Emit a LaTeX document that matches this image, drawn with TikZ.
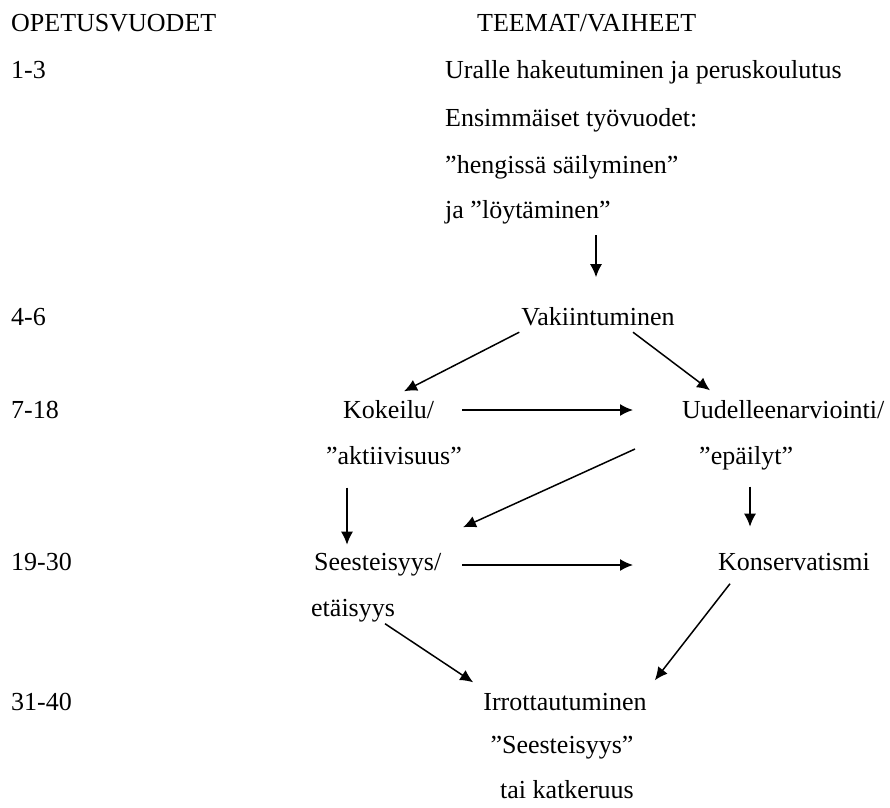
\documentclass[tikz,border=0pt]{standalone}
\usepackage{fontspec}
\setmainfont{Liberation Serif}
\usepackage{tikz}
\usetikzlibrary{arrows.meta, positioning}

\begin{document}
\begin{tikzpicture}[x=1pt, y=-1pt,
  every node/.style={font=\fontsize{26pt}{31pt}\selectfont, inner sep=0pt, text height=18pt, text depth=5pt},
  arr/.style={line width=1.5pt, -{Latex[length=13pt,width=12pt]}}]
  \useasboundingbox (0,0) rectangle (890,807);
  % column headers  (y axis points down)
  \node[anchor=west] (hdrYears) at (11,25) {OPETUSVUODET};
  \node[anchor=west] (hdrThemes) at (477,25) {TEEMAT/VAIHEET};
  % years column  x=11
  \node[anchor=west] (yrA) at (11,71.5) {1-3};
  \node[anchor=west] (yrB) at (11,318.5) {4-6};
  \node[anchor=west] (yrC) at (11,412) {7-18};
  \node[anchor=west] (yrD) at (11,564) {19-30};
  \node[anchor=west] (yrE) at (11,704) {31-40};
  % first years block
  \node[anchor=west] (start) at (445,71.5) {Uralle hakeutuminen ja peruskoulutus};
  \node[anchor=west] (firstA) at (445,120) {Ensimmäiset työvuodet:};
  \node[anchor=west] (firstB) at (445,166.5) {”hengissä säilyminen”};
  \node[anchor=west] (firstC) at (445,211.5) {ja ”löytäminen”};
  % stabilisation
  \node (vak) at (598,318.5) {Vakiintuminen};
  % 7-18
  \node[anchor=west] (kok) at (343,412) {Kokeilu/};
  \node (akt) at (394,458) {”aktiivisuus”};
  \node[anchor=west] (uud) at (682,412) {Uudelleenarviointi/};
  \node[anchor=west] (epa) at (699,458) {”epäilyt”};
  % 19-30
  \node[anchor=west] (see) at (314,564) {Seesteisyys/};
  \node[anchor=west] (eta) at (311,610) {etäisyys};
  \node[anchor=west] (kon) at (718,564) {Konservatismi};
  % 31-40
  \node (irr) at (565,704) {Irrottautuminen};
  \node (ses) at (562,747) {”Seesteisyys”};
  \node (kat) at (567,792) {tai katkeruus};
  % arrows
  \draw[arr] ([xshift=151pt,yshift=-12pt]firstC.south west) -- ++(0,42);
  \draw[arr] ([xshift=-2pt,yshift=-2pt]vak.south west) -- ([xshift=61pt,yshift=9pt]kok.north west);
  \draw[arr] ([xshift=35pt,yshift=-2pt]vak.south) -- ([xshift=28pt,yshift=10pt]uud.north west);
  \draw[arr] ([xshift=119pt,yshift=2pt]kok.west) -- ([xshift=-49pt,yshift=2pt]uud.west);
  \draw[arr] ([xshift=-64pt,yshift=9pt]epa.west) -- ([xshift=149pt,yshift=25pt]see.north west);
  \draw[arr] ([xshift=-47pt,yshift=-18pt]akt.south) -- ++(0,57);
  \draw[arr] ([xshift=51pt,yshift=-17pt]epa.south west) -- ++(0,40);
  \draw[arr] ([xshift=148pt,yshift=-1pt]see.west) -- ([xshift=-85pt,yshift=-1pt]kon.west);
  \draw[arr] ([xshift=74pt,yshift=-2pt]eta.south west) -- ([xshift=-10pt,yshift=10pt]irr.north west);
  \draw[arr] ([xshift=12pt,yshift=-8pt]kon.south west) -- ([xshift=8pt,yshift=12pt]irr.north east);
\end{tikzpicture}
\end{document}
